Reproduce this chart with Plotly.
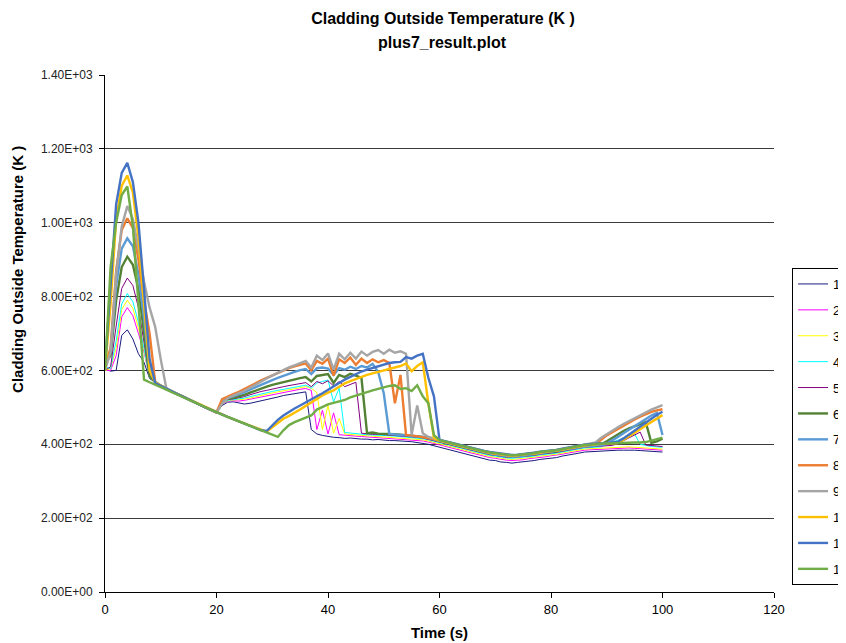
import plotly.graph_objects as go

time_s = list(range(0, 101))

s1 = [605, 598, 600, 695, 710, 685, 645, 622, 578, 567,
      558, 550, 543, 536, 529, 521, 514, 507, 500, 493,
      486, 505, 514, 515, 511, 509, 511, 514, 517, 521,
      525, 528, 532, 534, 537, 540, 542, 440, 428, 424,
      421, 419, 418, 416, 417, 415, 414, 414, 412, 413,
      411, 410, 410, 408, 408, 407, 405, 403, 400, 396,
      392, 388, 385, 380, 377, 372, 369, 364, 361, 357,
      356, 352, 351, 349, 351, 352, 355, 356, 359, 360,
      363, 364, 368, 370, 374, 376, 379, 380, 382, 382,
      383, 383, 384, 384, 385, 384, 383, 382, 381, 380,
      379]
s2 = [600, 600, 640, 745, 770, 748, 700, 650, 580, 568,
      558, 550, 543, 536, 529, 521, 514, 507, 500, 493,
      486, 508, 517, 518, 517, 519, 522, 526, 530, 533,
      536, 539, 542, 544, 547, 549, 551, 546, 440, 492,
      428, 485, 426, 424, 423, 422, 421, 420, 419, 419,
      418, 417, 416, 415, 414, 413, 411, 409, 406, 402,
      398, 394, 390, 386, 382, 378, 374, 370, 367, 364,
      362, 359, 357, 356, 357, 358, 361, 362, 365, 366,
      369, 370, 373, 376, 379, 381, 384, 385, 386, 387,
      388, 388, 389, 389, 390, 389, 388, 387, 386, 385,
      384]
s3 = [600, 605, 660, 765, 790, 768, 715, 655, 580, 568,
      558, 550, 543, 536, 529, 521, 514, 507, 500, 493,
      486, 509, 518, 520, 520, 522, 525, 529, 533, 536,
      539, 542, 545, 548, 550, 553, 556, 552, 540, 440,
      505, 430, 470, 428, 426, 425, 424, 423, 422, 422,
      421, 420, 419, 418, 417, 416, 414, 412, 409, 405,
      401, 397, 393, 389, 385, 381, 377, 373, 370, 367,
      365, 362, 360, 359, 360, 361, 364, 365, 368, 369,
      372, 373, 376, 379, 382, 384, 387, 388, 389, 390,
      391, 391, 392, 392, 393, 392, 391, 390, 389, 388,
      387]
s4 = [610, 605, 680, 780, 808, 786, 730, 660, 580, 568,
      558, 550, 543, 536, 529, 521, 514, 507, 500, 493,
      486, 510, 519, 521, 522, 525, 529, 533, 537, 540,
      543, 546, 549, 552, 555, 557, 560, 552, 566, 570,
      574, 515, 552, 432, 430, 428, 427, 426, 425, 425,
      424, 423, 422, 421, 420, 419, 417, 415, 412, 408,
      404, 400, 396, 392, 388, 384, 380, 376, 373, 370,
      368, 365, 363, 362, 363, 364, 367, 368, 371, 372,
      375, 376, 379, 382, 385, 387, 390, 391, 392, 393,
      400, 406, 412, 418, 423, 428, 400, 396, 394, 393,
      392]
s5 = [600, 610, 720, 822, 850, 830, 770, 680, 582, 568,
      558, 550, 543, 536, 529, 521, 514, 507, 500, 493,
      486, 511, 521, 523, 525, 529, 534, 539, 543, 546,
      550, 553, 556, 559, 561, 564, 567, 556, 570, 564,
      572, 558, 570, 556, 562, 568, 430, 428, 427, 427,
      426, 425, 424, 423, 422, 421, 419, 417, 414, 410,
      406, 402, 398, 394, 390, 386, 382, 378, 375, 372,
      370, 367, 365, 364, 365, 366, 369, 370, 373, 374,
      377, 378, 381, 384, 387, 389, 392, 393, 394, 395,
      396, 397, 402, 410, 418, 426, 433, 398, 396, 395,
      394]
s6 = [620, 640, 790, 880, 908, 886, 820, 700, 585, 568,
      558, 550, 543, 536, 529, 521, 514, 507, 500, 493,
      486, 513, 523, 526, 529, 534, 540, 546, 551, 556,
      561, 565, 569, 573, 576, 579, 582, 570, 585, 588,
      590, 566, 588, 582, 591, 586, 580, 430, 432, 429,
      429, 428, 427, 426, 425, 424, 422, 420, 417, 413,
      409, 405, 401, 397, 393, 389, 385, 381, 378, 375,
      373, 370, 368, 367, 368, 369, 372, 373, 376, 377,
      380, 381, 384, 387, 390, 392, 395, 396, 398, 400,
      408, 418, 428, 436, 443, 449, 455, 460, 404, 408,
      415]
s7 = [620, 650, 830, 930, 958, 936, 860, 740, 600, 570,
      558, 550, 543, 536, 529, 521, 514, 507, 500, 493,
      486, 515, 526, 530, 535, 541, 548, 555, 562, 568,
      574, 580, 586, 591, 596, 601, 604, 590, 606, 608,
      605, 588, 606, 602, 610, 604, 612, 608, 618, 596,
      538, 428, 427, 426, 425, 424, 422, 420, 417, 413,
      409, 405, 401, 397, 393, 389, 385, 381, 378, 375,
      372, 370, 368, 366, 367, 369, 371, 373, 375, 377,
      379, 381, 384, 386, 389, 391, 394, 395, 397, 398,
      402, 410, 420, 430, 440, 450, 460, 470, 478, 485,
      425]
s8 = [615, 660, 870, 980, 1012, 986, 900, 790, 700, 568,
      558, 550, 543, 536, 529, 521, 514, 507, 500, 493,
      486, 522, 530, 536, 542, 549, 557, 565, 573, 580,
      587, 594, 600, 606, 611, 615, 619, 600, 626, 618,
      632, 586, 630, 620, 635, 615, 632, 620, 630, 622,
      628, 620, 511, 588, 425, 424, 422, 420, 418, 414,
      410, 406, 402, 398, 394, 390, 386, 383, 380, 377,
      375, 372, 370, 369, 370, 371, 374, 375, 378, 379,
      382, 383, 386, 389, 392, 394, 397, 399, 402, 412,
      424, 433, 442, 451, 459, 467, 475, 482, 488, 492,
      495]
s9 = [600, 650, 860, 990, 1045, 1010, 930, 840, 770, 718,
      630, 552, 543, 536, 529, 521, 514, 507, 500, 493,
      486, 510, 525, 532, 538, 545, 553, 562, 570, 578,
      586, 594, 601, 608, 614, 619, 626, 608, 640, 628,
      646, 602, 645, 630, 648, 632, 651, 640, 650, 655,
      645, 656, 648, 652, 645, 425, 505, 430, 420, 416,
      412, 408, 404, 400, 396, 392, 388, 384, 381, 378,
      376, 373, 371, 370, 371, 372, 375, 376, 379, 380,
      383, 384, 387, 390, 393, 395, 398, 400, 405, 418,
      428, 437, 446, 455, 463, 471, 479, 487, 494, 500,
      506]
s10 = [600, 780, 1010, 1100, 1128, 1082, 960, 770, 600, 568,
       558, 550, 543, 536, 529, 521, 514, 507, 500, 493,
       486, 480, 474, 468, 462, 456, 450, 444, 438, 434,
       446, 458, 469, 477, 485, 494, 504, 514, 524, 532,
       540, 546, 556, 565, 571, 577, 583, 588, 592, 596,
       600, 603, 606, 612, 619, 598, 612, 622, 511, 418,
       410, 406, 402, 398, 394, 390, 386, 383, 380, 377,
       375, 372, 370, 369, 370, 371, 374, 375, 378, 379,
       382, 383, 386, 389, 392, 394, 397, 398, 400, 401,
       401, 402, 403, 412, 421, 431, 441, 451, 461, 470,
       479]
s11 = [610, 820, 1050, 1135, 1162, 1110, 1000, 820, 630, 566,
       558, 550, 543, 536, 529, 521, 514, 507, 500, 493,
       486, 480, 474, 468, 462, 456, 450, 444, 438, 436,
       452, 466, 478, 488, 497, 505, 514, 522, 530, 538,
       548, 556, 566, 575, 583, 590, 597, 602, 607, 611,
       616, 620, 622, 623, 636, 632, 640, 645, 580, 530,
       412, 408, 404, 400, 396, 392, 388, 385, 382, 379,
       377, 374, 372, 371, 372, 373, 376, 377, 380, 381,
       384, 385, 388, 391, 394, 396, 399, 400, 402, 403,
       403, 404, 407, 416, 427, 438, 449, 460, 470, 480,
       488]
s12 = [600, 880, 1000, 1075, 1098, 990, 780, 575, 568, 562,
       555, 548, 541, 534, 527, 520, 513, 506, 499, 492,
       486, 480, 474, 468, 462, 456, 450, 444, 438, 432,
       426, 420, 438, 452, 460, 466, 472, 478, 494, 502,
       508, 512, 515, 520, 527, 532, 538, 542, 546, 550,
       555, 558, 560, 550, 552, 544, 560, 530, 511, 425,
       411, 407, 403, 399, 395, 391, 387, 384, 381, 378,
       376, 373, 371, 370, 371, 372, 375, 376, 379, 380,
       383, 384, 387, 390, 393, 395, 398, 399, 401, 402,
       402, 403, 403, 404, 404, 405, 405, 406, 410, 414,
       418]

series_names = ["1", "2", "3", "4", "5", "6", "7", "8", "9", "10", "11", "12"]
series_values = [s1, s2, s3, s4, s5, s6, s7, s8, s9, s10, s11, s12]
series_colors = ["#1a1a80", "#ff00ff", "#ffff00", "#00ffff", "#800080", "#548235",
                 "#5b9bd5", "#ed7d31", "#a5a5a5", "#ffc000", "#4472c4", "#70ad47"]
series_widths = [1, 1, 1, 1, 1, 2.4, 2.4, 2.4, 2.4, 2.4, 2.4, 2.4]

y_tick_vals = [0, 200, 400, 600, 800, 1000, 1200, 1400]
y_tick_text = ["0.00E+00", "2.00E+02", "4.00E+02", "6.00E+02", "8.00E+02",
               "1.00E+03", "1.20E+03", "1.40E+03"]
x_tick_vals = [0, 20, 40, 60, 80, 100, 120]

title_line1 = "Cladding Outside Temperature (K )"
title_line2 = "plus7_result.plot"
y_title = "Cladding Outside Temperature (K )"
x_title = "Time (s)"

for v in series_values:
    assert len(v) == len(time_s), len(v)

fig = go.Figure()
for name, vals, col, w in zip(series_names, series_values, series_colors, series_widths):
    fig.add_trace(go.Scatter(x=time_s, y=vals, mode="lines", name=name,
                             legendgroup=name,
                             line=dict(color=col, width=w)))

fig.update_layout(
    width=846, height=643,
    paper_bgcolor="white", plot_bgcolor="white",
    margin=dict(l=97, r=80, t=67, b=59, autoexpand=False),
    font=dict(family="Arial", color="#000000"),
    title=dict(text="<b>" + title_line1 + "</b>",
               x=0.5142, xanchor="center", xref="container",
               y=0.9844, yanchor="middle", yref="container",
               font=dict(family="Arial", size=16, color="#000000")),
    xaxis=dict(range=[0, 120], tickvals=x_tick_vals, showgrid=False, zeroline=False,
               showline=True, linecolor="#000000", linewidth=1,
               ticks="outside", ticklen=5, tickcolor="#000000",
               tickfont=dict(family="Arial", size=13, color="#000000"),
               title=dict(text="<b>" + x_title + "</b>", standoff=11,
                          font=dict(family="Arial", size=15, color="#000000"))),
    yaxis=dict(range=[0, 1400], tickvals=y_tick_vals, ticktext=y_tick_text,
               showgrid=True, gridcolor="#3c3c3c", gridwidth=1, zeroline=False,
               showline=True, linecolor="#000000", linewidth=1,
               ticks="outside", ticklen=5, tickcolor="#000000",
               ticklabelstandoff=4,
               tickfont=dict(family="Arial", size=12, color="#222222")),
    legend=dict(x=1.027, y=0.6267, xanchor="left", yanchor="top",
                bgcolor="white", bordercolor="#000000", borderwidth=1,
                font=dict(family="Arial", size=13, color="#000000"),
                tracegroupgap=6, traceorder="grouped"),
    showlegend=True,
    annotations=[
        dict(text="<b>" + title_line2 + "</b>", xref="paper", yref="paper",
             x=0.5052, y=1.0638, xanchor="center", yanchor="middle", showarrow=False,
             font=dict(family="Arial", size=16, color="#000000")),
        dict(text="<b>" + y_title + "</b>", xref="paper", yref="paper",
             x=-0.1300, y=0.623, xanchor="center", yanchor="middle", showarrow=False,
             textangle=-90,
             font=dict(family="Arial", size=15, color="#000000")),
    ],
)

fig.write_html("out.html")
